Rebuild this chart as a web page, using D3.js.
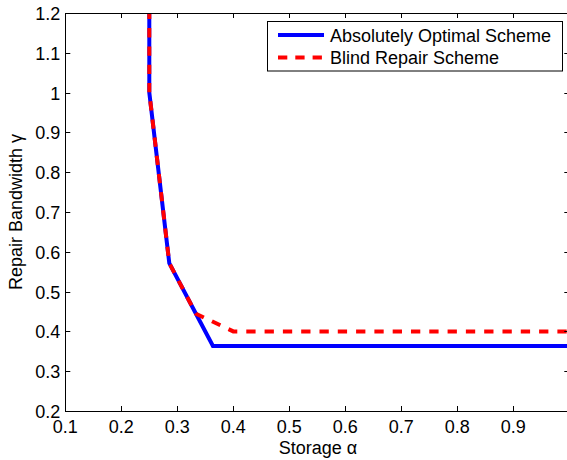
<!DOCTYPE html>
<html>
<head>
<meta charset="utf-8">
<script src="https://cdn.jsdelivr.net/npm/d3@7"></script>
<style>
  body { margin: 0; background: #fff; }
  text { font-family: "Liberation Sans", Arial, sans-serif; fill: #000; }
</style>
</head>
<body>
<svg id="chart" width="567" height="460"></svg>
<script>
// storage alpha vs repair bandwidth gamma
var optimalAlpha = [0.25, 0.25, 0.2857, 0.3333, 0.3636, 1.0];
var optimalGamma = [1.3, 1.0, 0.5714, 0.4444, 0.3636, 0.3636];
var blindAlpha = [0.25, 0.25, 0.2857, 0.3333, 0.4, 1.0];
var blindGamma = [1.3, 1.0, 0.5714, 0.4444, 0.4, 0.4];

var xTicks = [0.1, 0.2, 0.3, 0.4, 0.5, 0.6, 0.7, 0.8, 0.9, 1.0];
var yTicks = [0.2, 0.3, 0.4, 0.5, 0.6, 0.7, 0.8, 0.9, 1.0, 1.1, 1.2];
var seriesNames = ["Absolutely Optimal Scheme", "Blind Repair Scheme"];

var svg = d3.select("#chart");
var plotLeft = 65.3, plotRight = 569.3, plotTop = 13, plotBottom = 411;

var x = d3.scaleLinear().domain([0.1, 1.0]).range([plotLeft, plotRight]);
var y = d3.scaleLinear().domain([0.2, 1.2]).range([plotBottom, plotTop]);

var fmt = d => String(+d.toFixed(1));

// tick marks point inward, matlab style
var tickLen = 5;

svg.append("defs").append("clipPath").attr("id", "plotClip")
    .append("rect")
    .attr("x", plotLeft).attr("y", plotTop)
    .attr("width", plotRight - plotLeft).attr("height", plotBottom - plotTop);

function makeLine(xs, ys) {
    var pts = xs.map((v, i) => [v, ys[i]]);
    return d3.line().x(d => x(d[0])).y(d => y(d[1]))(pts);
}

var plot = svg.append("g").attr("clip-path", "url(#plotClip)");
plot.append("path")
    .attr("d", makeLine(optimalAlpha, optimalGamma))
    .attr("fill", "none")
    .attr("stroke", "#0000ff")
    .attr("stroke-width", 4);
plot.append("path")
    .attr("d", makeLine(blindAlpha, blindGamma))
    .attr("fill", "none")
    .attr("stroke", "#ff0000")
    .attr("stroke-width", 4)
    .attr("stroke-dasharray", "9.3,9");

var axes = svg.append("g").attr("stroke", "#000").attr("stroke-width", 1);
axes.append("rect")
    .attr("x", Math.round(plotLeft) + 0.5).attr("y", plotTop + 0.5)
    .attr("width", plotRight - plotLeft).attr("height", plotBottom - plotTop)
    .attr("fill", "none");

xTicks.forEach(t => {
    var px = Math.round(x(t)) + 0.5;
    axes.append("line").attr("x1", px).attr("x2", px).attr("y1", plotBottom).attr("y2", plotBottom - tickLen);
    axes.append("line").attr("x1", px).attr("x2", px).attr("y1", plotTop).attr("y2", plotTop + tickLen);
});
yTicks.forEach(t => {
    var py = Math.round(y(t)) + 0.5;
    axes.append("line").attr("x1", plotLeft).attr("x2", plotLeft + tickLen).attr("y1", py).attr("y2", py);
    axes.append("line").attr("x1", plotRight).attr("x2", plotRight - tickLen).attr("y1", py).attr("y2", py);
});

svg.append("g").selectAll("text")
    .data(xTicks.filter(d => d < 0.95))
    .enter().append("text")
    .attr("x", d => x(d))
    .attr("y", plotBottom + 22)
    .attr("text-anchor", "middle")
    .attr("font-size", 18)
    .text(fmt);

svg.append("g").selectAll("text")
    .data(yTicks)
    .enter().append("text")
    .attr("x", plotLeft - 5)
    .attr("y", d => y(d) + 7)
    .attr("text-anchor", "end")
    .attr("font-size", 18)
    .text(fmt);

svg.append("text")
    .attr("x", 318).attr("y", 454)
    .attr("text-anchor", "middle")
    .attr("font-size", 18)
    .text("Storage α");

svg.append("text")
    .attr("transform", "translate(22," + ((plotTop + plotBottom) / 2) + ") rotate(-90)")
    .attr("text-anchor", "middle")
    .attr("font-size", 18)
    .text("Repair Bandwidth γ");

// legend
var legend = svg.append("g");
legend.append("rect")
    .attr("x", 267.5).attr("y", 21.5)
    .attr("width", 295).attr("height", 49.5)
    .attr("fill", "#fff").attr("stroke", "#000").attr("stroke-width", 1);

var legendStyles = [{color: "#0000ff", dash: null}, {color: "#ff0000", dash: "9.3,8"}];
seriesNames.forEach((name, i) => {
    var ly = 35 + i * 22.5;
    legend.append("line")
        .attr("x1", 278).attr("x2", 324)
        .attr("y1", ly).attr("y2", ly)
        .attr("stroke", legendStyles[i].color)
        .attr("stroke-width", 4)
        .attr("stroke-dasharray", legendStyles[i].dash);
    legend.append("text")
        .attr("x", 330).attr("y", ly + 6.5)
        .attr("font-size", 18)
        .text(name);
});
</script>
</body>
</html>
